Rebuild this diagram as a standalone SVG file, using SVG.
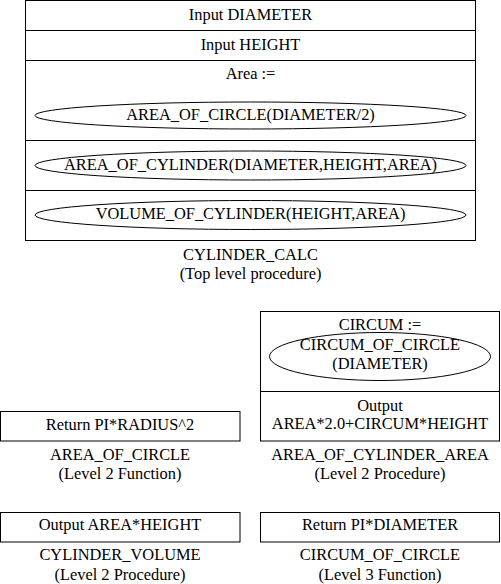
<svg xmlns="http://www.w3.org/2000/svg" width="501" height="584" viewBox="0 0 501 584">
<style>
rect, line, ellipse { fill: none; stroke: #000; stroke-width: 1; }
text { font-family: "Liberation Serif", "Times New Roman", serif; font-size: 16.4px; fill: #000; text-anchor: middle; }
</style>
<rect width="501" height="584" fill="#fff" style="fill:#fff;stroke:none"/>
<g id="cylinder_calc">
  <rect x="25.5" y="0.5" width="450" height="240"/>
  <line x1="25.5" y1="30.5" x2="475.5" y2="30.5"/>
  <line x1="25.5" y1="60.5" x2="475.5" y2="60.5"/>
  <line x1="25.5" y1="140.5" x2="475.5" y2="140.5"/>
  <line x1="25.5" y1="190.5" x2="475.5" y2="190.5"/>
  <text x="250.5" y="19.5">Input DIAMETER</text>
  <text x="250.5" y="49.5">Input HEIGHT</text>
  <text x="250.5" y="79">Area :=</text>
  <ellipse cx="250.5" cy="115.5" rx="215.5" ry="13.5"/>
  <text x="250.5" y="119.5">AREA_OF_CIRCLE(DIAMETER/2)</text>
  <ellipse cx="250.5" cy="165.5" rx="215.5" ry="14.5"/>
  <text x="250.5" y="169.5">AREA_OF_CYLINDER(DIAMETER,HEIGHT,AREA)</text>
  <ellipse cx="250.5" cy="215" rx="215.5" ry="14.5"/>
  <text x="250.5" y="219">VOLUME_OF_CYLINDER(HEIGHT,AREA)</text>
  <text x="250.5" y="259.5">CYLINDER_CALC</text>
  <text x="250.5" y="279">(Top level procedure)</text>
</g>
<g id="area_of_cylinder_area">
  <rect x="260.5" y="311.5" width="239" height="129.5"/>
  <line x1="260.5" y1="391.5" x2="499.5" y2="391.5"/>
  <text x="380" y="329.5">CIRCUM :=</text>
  <ellipse cx="380" cy="356.5" rx="110.5" ry="24"/>
  <text x="380" y="350">CIRCUM_OF_CIRCLE</text>
  <text x="380" y="368.5">(DIAMETER)</text>
  <text x="380" y="411">Output</text>
  <text x="380" y="428.5">AREA*2.0+CIRCUM*HEIGHT</text>
  <text x="380" y="459.5">AREA_OF_CYLINDER_AREA</text>
  <text x="380" y="478.5">(Level 2 Procedure)</text>
</g>
<g id="area_of_circle">
  <rect x="0.5" y="411.5" width="239.5" height="29.5"/>
  <text x="120" y="429.5">Return PI*RADIUS^2</text>
  <text x="120" y="459.5">AREA_OF_CIRCLE</text>
  <text x="120" y="478.5">(Level 2 Function)</text>
</g>
<g id="cylinder_volume">
  <rect x="0.5" y="512.5" width="239.5" height="29.5"/>
  <text x="120" y="530">Output AREA*HEIGHT</text>
  <text x="120" y="560">CYLINDER_VOLUME</text>
  <text x="120" y="579.5">(Level 2 Procedure)</text>
</g>
<g id="circum_of_circle">
  <rect x="260.5" y="512.5" width="239" height="29.5"/>
  <text x="380" y="530">Return PI*DIAMETER</text>
  <text x="380" y="560">CIRCUM_OF_CIRCLE</text>
  <text x="380" y="579.5">(Level 3 Function)</text>
</g>
<g id="connectors"></g>
</svg>
